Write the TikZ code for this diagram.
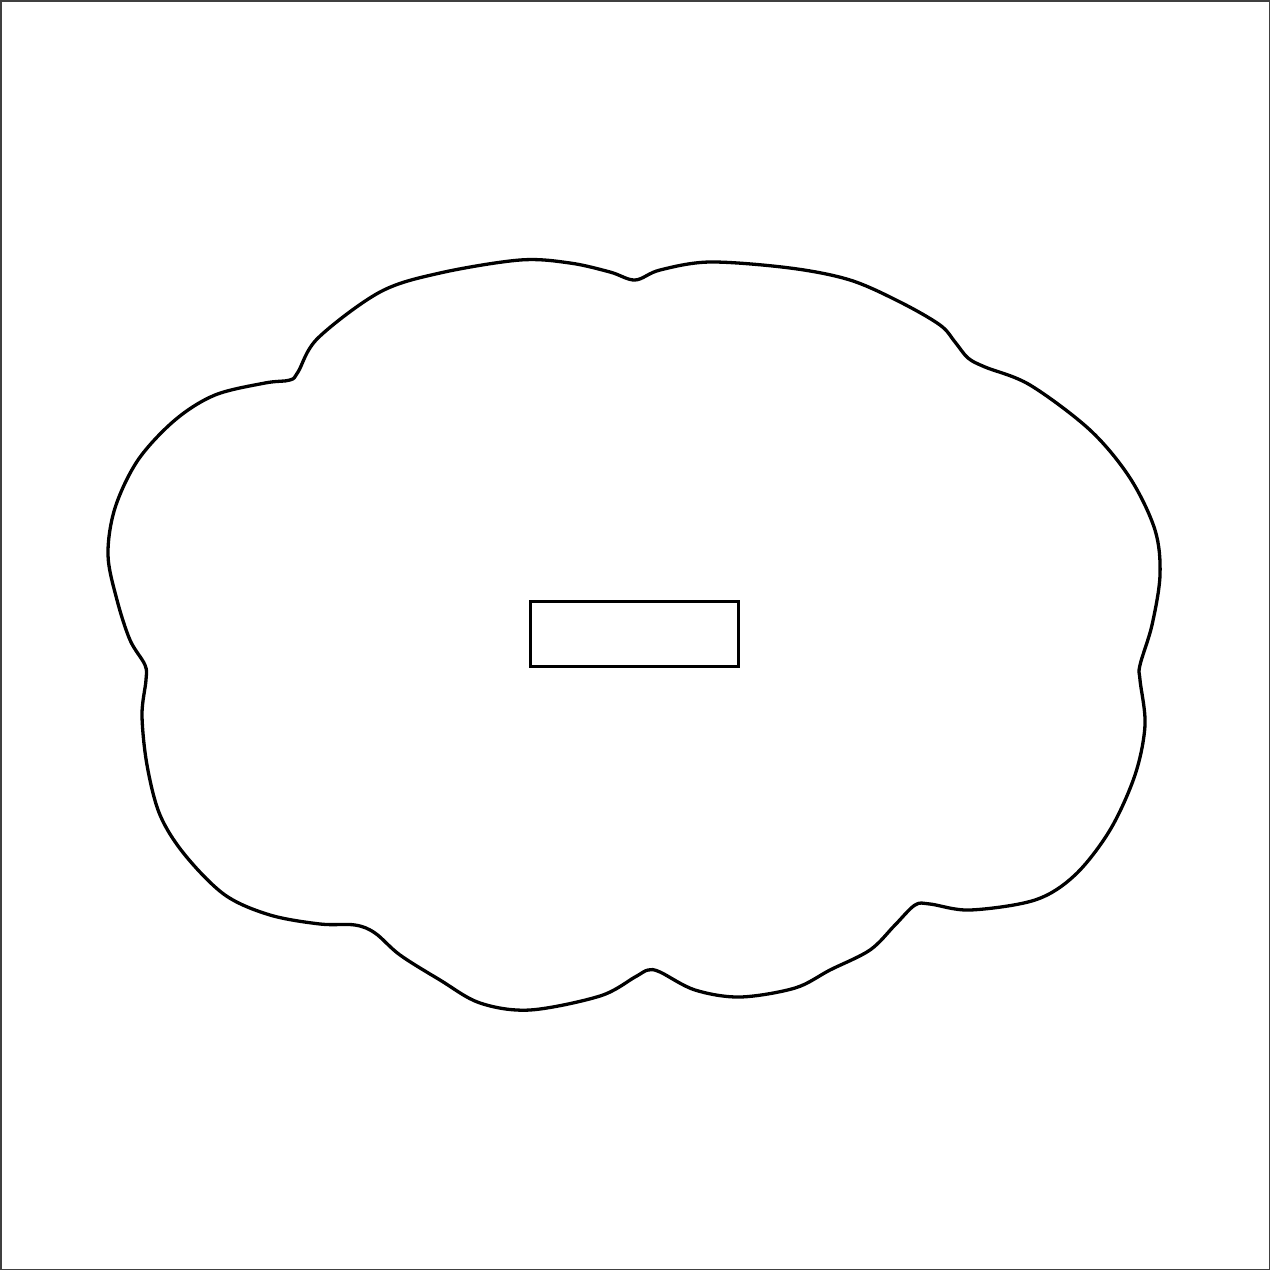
\documentclass[tikz,border=0pt]{standalone}
\begin{document}
\begin{tikzpicture}[x=1pt,y=-1pt,
  cloudline/.style={draw=black,line width=3.3pt,line join=round},
  boxstyle/.style={draw=black,line width=3pt,minimum width=208pt,minimum height=65pt,inner sep=0pt},
  frame/.style={draw=black!75,line width=1.5pt}]
\useasboundingbox (0,0) rectangle (1270,1270);
\draw[frame] (0.75,0.75) rectangle (1269.25,1269.25);
\draw[cloudline] plot[smooth cycle,tension=0.55] coordinates {
(635,280) (660,270) (710,262) (790,268) (850,280) (900,302) (940,325)
(955,342) (968,358) (985,367) (1030,385) (1090,430) (1130,478) (1155,530)
(1160,575) (1152,625) (1140,665) (1140,680) (1145,725) (1135,775) (1110,830)
(1075,875) (1035,900) (970,910) (930,904) (915,905) (895,925) (870,950)
(830,970) (795,988) (740,997) (695,990) (660,972) (648,970) (635,977)
(600,996) (530,1010) (480,1003) (440,980) (400,955) (375,933) (355,925)
(320,924) (270,915) (225,895) (185,855) (160,815) (147,765) (142,715)
(146,680) (145,665) (130,640) (117,600) (108,555) (115,508) (138,460)
(175,420) (215,395) (265,383) (290,380) (298,372) (318,338) (380,292)
(440,273) (520,260) (570,263) (610,272)};
\node[boxstyle] (box) at (634.5,634) {};
\end{tikzpicture}
\end{document}
